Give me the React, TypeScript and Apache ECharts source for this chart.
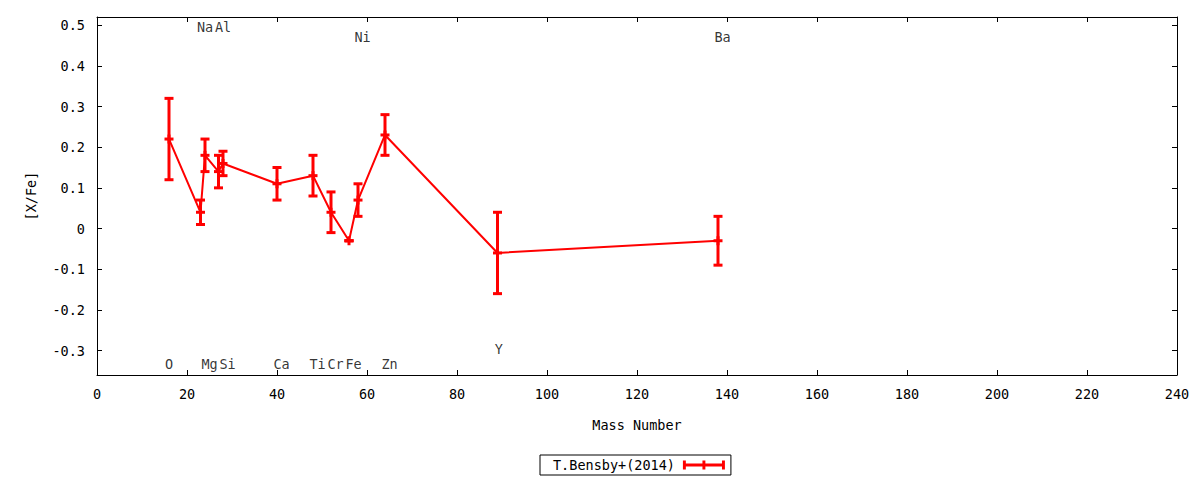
import React, { useEffect, useRef } from "react";
import * as echarts from "echarts";

const seriesName = "T.Bensby+(2014)";
const elements = ["O", "Na", "Mg", "Al", "Si", "Ca", "Ti", "Cr", "Fe", "Ni", "Zn", "Y", "Ba"];
const mass = [16, 23, 24, 27, 28, 40, 48, 52, 56, 58, 64, 89, 138];
const xfe = [0.22, 0.04, 0.18, 0.14, 0.16, 0.11, 0.13, 0.04, -0.03, 0.07, 0.23, -0.06, -0.03];
const err = [0.1, 0.03, 0.04, 0.04, 0.03, 0.04, 0.05, 0.05, 0.0, 0.04, 0.05, 0.1, 0.06];
const labelX = [16, 24, 25, 28, 29, 41, 49, 53, 57, 59, 65, 89.3, 139];
const labelY = [-0.332, 0.495, -0.332, 0.495, -0.332, -0.332, -0.332, -0.332, -0.332, 0.47, -0.332, -0.297, 0.47];
const yTicks = [-0.3, -0.2, -0.1, 0, 0.1, 0.2, 0.3, 0.4, 0.5];
const yTickLabels = ["-0.3", "-0.2", "-0.1", "0", "0.1", "0.2", "0.3", "0.4", "0.5"];

const FONT = "DejaVu Sans Mono";
const RED = "#ff0000";

export default function App() {
  const ref = useRef<HTMLDivElement>(null);
  useEffect(() => {
    document.body.style.margin = "0";
    const chart = echarts.init(ref.current!, null, { renderer: "svg" });
    const axisCommon = {
      axisLine: { show: true, onZero: false, lineStyle: { color: "#000", width: 1 } },
      splitLine: { show: false },
    };
    const xBase = { type: "value", min: 0, max: 240, interval: 20, ...axisCommon };
    const yBase = { type: "value", min: -0.36, max: 0.52, ...axisCommon };
    const option: any = {
      animation: false,
      backgroundColor: "#fff",
      textStyle: { fontFamily: FONT },
      grid: { left: 97, right: 23, top: 17, bottom: 105, containLabel: false },
      xAxis: [
        {
          ...xBase,
          position: "bottom",
          name: "Mass Number",
          nameLocation: "middle",
          nameGap: 43,
          nameTextStyle: { fontFamily: FONT, fontSize: 13.5, color: "#000" },
          axisTick: { inside: true, length: 5, lineStyle: { color: "#000" } },
          axisLabel: { fontFamily: FONT, fontSize: 13.5, color: "#000", margin: 12 },
        },
        {
          ...xBase,
          position: "top",
          axisTick: { inside: true, length: 5, lineStyle: { color: "#000" } },
          axisLabel: { show: false },
        },
      ],
      yAxis: [
        {
          ...yBase,
          position: "left",
          name: "[X/Fe]",
          nameLocation: "middle",
          nameRotate: 90,
          nameGap: 59,
          nameTextStyle: { fontFamily: FONT, fontSize: 13.5, color: "#000" },
          axisTick: { inside: true, length: 5, customValues: yTicks, lineStyle: { color: "#000" } },
          axisLabel: {
            fontFamily: FONT,
            fontSize: 13.5,
            color: "#000",
            margin: 12,
            customValues: yTicks,
            formatter: (v: number) => {
              const i = yTicks.findIndex((t) => Math.abs(t - v) < 1e-9);
              return i >= 0 ? yTickLabels[i] : "";
            },
          },
        },
        {
          ...yBase,
          position: "right",
          axisTick: { inside: true, length: 5, customValues: yTicks, lineStyle: { color: "#000" } },
          axisLabel: { show: false },
        },
      ],
      legend: {
        data: [
          {
            name: seriesName,
            icon: "path://M0,0h3v9h-3z M20,0h3v9h-3z M40,0h3v9h-3z M0,3h43v3h-43z",
            itemStyle: { color: RED },
          },
        ],
        left: 540,
        top: 455,
        orient: "horizontal",
        align: "right",
        itemWidth: 42,
        itemHeight: 9,
        borderColor: "#000",
        borderWidth: 1,
        borderRadius: 0,
        padding: [3, 6, 3, 13],
        selectedMode: false,
        textStyle: { fontFamily: FONT, fontSize: 13.5, color: "#000", padding: [0, 3, 0, 0] },
      },
      series: [
        {
          name: seriesName,
          type: "line",
          data: mass.map((m, i) => [m, xfe[i]]),
          showSymbol: false,
          symbol: "none",
          lineStyle: { color: RED, width: 2 },
          itemStyle: { color: RED },
          z: 2,
        },
        {
          name: seriesName,
          type: "custom",
          data: mass.map((m, i) => [m, xfe[i], xfe[i] - err[i], xfe[i] + err[i]]),
          encode: { x: 0, y: 1 },
          itemStyle: { color: RED },
          z: 3,
          renderItem: (params: any, api: any) => {
            const x = api.value(0);
            const y = api.value(1);
            const lo = api.value(2);
            const hi = api.value(3);
            const p = api.coord([x, y]);
            const pl = api.coord([x, lo]);
            const ph = api.coord([x, hi]);
            const hw = 4.5;
            const st = { stroke: RED, lineWidth: 3 };
            const cap = (pt: number[]) => ({
              type: "line",
              shape: { x1: pt[0] - hw, y1: pt[1], x2: pt[0] + hw, y2: pt[1] },
              style: st,
            });
            return {
              type: "group",
              children: [
                { type: "line", shape: { x1: pl[0], y1: pl[1], x2: ph[0], y2: ph[1] }, style: st },
                { type: "line", shape: { x1: p[0], y1: p[1] - hw, x2: p[0], y2: p[1] + hw }, style: st },
                cap(pl),
                cap(ph),
                cap(p),
              ],
            };
          },
        },
        {
          name: "labels",
          type: "scatter",
          symbolSize: 0,
          silent: true,
          data: elements.map((e, i) => [labelX[i], labelY[i], e]),
          label: {
            show: true,
            position: "inside",
            formatter: (p: any) => p.value[2],
            fontFamily: FONT,
            fontSize: 13.5,
            color: "#000",
          },
          z: 4,
        },
      ],
    };
    chart.setOption(option);
    return () => chart.dispose();
  }, []);
  return <div ref={ref} style={{ width: 1200, height: 480 }} />;
}
